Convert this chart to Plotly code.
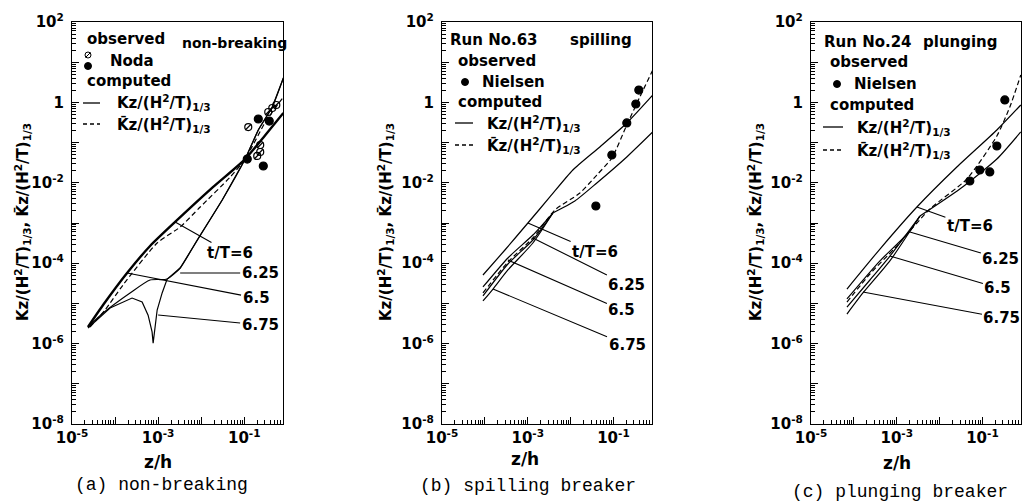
import math
import plotly.graph_objects as go

# ---------------- data: panel (a) non-breaking ----------------
a_x6 = [2.35e-5, 5.26e-5, 1.9e-4, 6.5e-4, 2.48e-3, 1.9e-2, 0.105, 0.31, 0.81]
a_y6 = [2.59e-6, 9.1e-6, 5.7e-5, 2.68e-4, 1.06e-3, 7.9e-3, 0.039, 0.155, 0.545]
a_xm = [2.62e-5, 5.85e-5, 1.53e-4, 9.5e-4, 3.25e-3, 9.5e-3, 4.72e-2, 0.105, 0.31, 0.81]
a_ym = [2.59e-6, 6.85e-6, 2.87e-5, 3.18e-4, 7.94e-4, 2.5e-3, 1.39e-2, 0.039, 0.325, 1.36]
a_x625 = [2.35e-5, 5.26e-5, 2.23e-4, 6.5e-4, 1.62e-3, 3.25e-3, 8.1e-3, 3.08e-2, 0.105, 0.212, 0.448, 0.81]
a_y625 = [2.59e-6, 5.77e-6, 1.82e-5, 3.82e-5, 4.05e-5, 7.6e-5, 3.78e-4, 3.73e-3, 0.039, 0.206, 0.77, 4.05]
a_x675 = [2.35e-5, 7.66e-5, 2.48e-4, 4.25e-4, 5.85e-4, 7.24e-4, 7.66e-4, 8.5e-4, 9.5e-4, 1.24e-3, 1.62e-3]
a_y675 = [2.44e-6, 7.7e-6, 1.36e-5, 1.08e-5, 5.1e-6, 1.95e-6, 1.03e-6, 2.59e-6, 6.85e-6, 1.82e-5, 4.05e-5]
a_noda_open_x = [0.124, 0.235, 0.200, 0.235, 0.361, 0.448, 0.555]
a_noda_open_y = [0.244, 0.0583, 0.0465, 0.0871, 0.577, 0.726, 0.861]
a_noda_fill_x = [0.1175, 0.212, 0.381, 0.277]
a_noda_fill_y = [0.039, 0.386, 0.344, 0.0262]

# ---------------- data: panel (b) spilling ----------------
b_xu = [9.04e-5, 2.94e-4, 1.01e-3, 3.29e-3, 1.13e-2, 4.82e-2, 0.205, 0.828]
b_yu = [5.08e-5, 2.13e-4, 1.0e-3, 4.44e-3, 2.08e-2, 0.078, 0.308, 1.53]
b_xl = [3.86e-3, 1.26e-2, 4.1e-2, 0.205, 0.828]
b_yl = [1.77e-3, 3.52e-3, 9.9e-3, 0.0439, 0.184]
b_xm = [9.04e-5, 3.45e-4, 1.32e-3, 4.3e-3, 1.65e-2, 4.1e-2, 9.18e-2, 0.205, 0.412, 0.828]
b_ym = [1.82e-5, 1.07e-4, 4.24e-4, 2.1e-3, 5.57e-3, 1.56e-2, 4.14e-2, 0.274, 1.36, 6.4]
b_x625 = [9.04e-5, 3.45e-4, 1.32e-3]
b_y625 = [2.56e-5, 1.35e-4, 5.02e-4]
b_x65 = [9.04e-5, 3.45e-4, 1.32e-3]
b_y65 = [1.53e-5, 9.55e-5, 3.78e-4]
b_x675 = [9.04e-5, 1.55e-4, 3.45e-4, 1.32e-3]
b_y675 = [1.15e-5, 2.28e-5, 6.78e-5, 3.18e-4]
b_obs_x = [0.391, 0.333, 0.205, 0.0918, 0.0389]
b_obs_y = [2.03, 0.912, 0.308, 0.0492, 2.65e-3]

# ---------------- data: panel (c) plunging ----------------
c_xu = [6.9e-5, 4.06e-4, 2.96e-3, 2.53e-2, 0.217, 0.785]
c_yu = [2.28e-5, 2.25e-4, 2.5e-3, 2.47e-2, 0.206, 0.861]
c_xl = [3.48e-3, 2.97e-2, 0.217, 0.785]
c_yl = [1.49e-3, 7.0e-3, 0.039, 0.184]
c_xm = [6.9e-5, 2.37e-4, 9.08e-4, 5.94e-3, 4.33e-2, 0.217, 0.436, 0.785]
c_ym = [1.08e-5, 5.38e-5, 2.39e-4, 2.23e-3, 1.24e-2, 0.146, 0.77, 4.8]
c_x625 = [6.9e-5, 4.06e-4, 2.03e-3]
c_y625 = [1.29e-5, 1.14e-4, 6.3e-4]
c_x65 = [6.9e-5, 2.37e-4, 6.93e-4]
c_y65 = [8.1e-6, 3.82e-5, 1.51e-4]
c_x675 = [6.9e-5, 1.63e-4, 6.93e-4]
c_y675 = [5.44e-6, 1.82e-5, 1.14e-4]
c_obs_x = [0.333, 0.217, 0.0869, 0.1486, 0.0508]
c_obs_y = [1.15, 0.0822, 0.0208, 0.0186, 0.0111]

# leader-line labels: (label, point x, point y)
a_labels = [("t/T=6", 2.48e-3, 1.06e-3), ("6.25", 3.25e-3, 5.7e-5),
            ("6.5", 1.9e-4, 5.7e-5), ("6.75", 1.0e-3, 5.14e-6)]
b_labels = [("t/T=6", 1.01e-3, 1.0e-3), ("6.25", 1.32e-3, 4.24e-4),
            ("6.5", 3.45e-4, 1.2e-4), ("6.75", 1.55e-4, 2.28e-5)]
c_labels = [("t/T=6", 2.96e-3, 2.5e-3), ("6.25", 2.03e-3, 5.97e-4),
            ("6.5", 6.93e-4, 1.51e-4), ("6.75", 1.63e-4, 1.92e-5)]

x_tickvals = [1e-5, 1e-4, 1e-3, 1e-2, 1e-1]
x_ticktext = ["10<sup>-5</sup>", "", "10<sup>-3</sup>", "", "10<sup>-1</sup>"]
y_tickvals = [1e-8, 1e-7, 1e-6, 1e-5, 1e-4, 1e-3, 1e-2, 1e-1, 1, 10, 100]
y_ticktext = ["10<sup>-8</sup>", "", "10<sup>-6</sup>", "", "10<sup>-4</sup>", "",
              "10<sup>-2</sup>", "", "1", "", "10<sup>2</sup>"]

# ---------------- layout helpers ----------------
W, H = 1026, 504
FONT = "DejaVu Sans"
BLACK = "black"


def PX(x):
    return x / W


def PY(y):
    return 1 - y / H


panels = [  # left px, right px, axis suffix
    (72, 283, ""),
    (442, 652, "2"),
    (811, 1021, "3"),
]
y_top, y_bot = 22, 424

minor_x = [k * 10.0 ** e for e in range(-5, 0) for k in range(2, 10)]
minor_y = [k * 10.0 ** e for e in range(-8, 2) for k in range(2, 10)]

fig = go.Figure()


def line(x, y, ax, width=1.2, dash="solid", shape="spline"):
    fig.add_trace(go.Scatter(x=x, y=y, mode="lines", xaxis="x" + ax, yaxis="y" + ax,
                             line=dict(color=BLACK, width=width, dash=dash,
                                       shape=shape, smoothing=0.6),
                             showlegend=False, hoverinfo="skip"))


def dots(x, y, ax, symbol="circle", size=7):
    fig.add_trace(go.Scatter(x=x, y=y, mode="markers", xaxis="x" + ax, yaxis="y" + ax,
                             marker=dict(symbol=symbol, size=size, color=BLACK,
                                         line=dict(color=BLACK, width=1.2)),
                             showlegend=False, hoverinfo="skip"))


DASH = "5px,3px"

# panel (a)
line(a_x675 + a_x625[5:], a_y675 + a_y625[5:], "", shape="linear")
line(a_x625, a_y625, "")
line(a_xm, a_ym, "", dash=DASH)
line(a_x6, a_y6, "", width=2.4)
dots(a_noda_open_x, a_noda_open_y, "", symbol="circle-open", size=7)
dots(a_noda_open_x, a_noda_open_y, "", symbol="line-ne", size=6)
dots(a_noda_fill_x, a_noda_fill_y, "", size=8)

# panel (b)
line(b_xu, b_yu, "2")
line(b_xl, b_yl, "2")
for bx, by in [(b_x625, b_y625), (b_x65, b_y65), (b_x675, b_y675)]:
    line(bx + b_xl[:1], by + b_yl[:1], "2")
line(b_xm, b_ym, "2", dash=DASH)
dots(b_obs_x, b_obs_y, "2", size=8)

# panel (c)
line(c_xu, c_yu, "3")
line(c_xl, c_yl, "3")
for cx, cy in [(c_x625, c_y625), (c_x65, c_y65), (c_x675, c_y675)]:
    line(cx + c_xl[:1], cy + c_yl[:1], "3")
line(c_xm, c_ym, "3", dash=DASH)
dots(c_obs_x, c_obs_y, "3", size=8)

layout = dict(width=W, height=H, margin=dict(l=0, r=0, t=0, b=0),
              paper_bgcolor="white", plot_bgcolor="white", showlegend=False)

TICKFONT = dict(family=FONT, size=15, color=BLACK, weight="bold")
for left, right, s in panels:
    layout["xaxis" + s] = dict(
        type="log", range=[-5, -0.1], domain=[PX(left), PX(right)],
        anchor="y" + s, showgrid=False, zeroline=False, showline=True,
        linecolor=BLACK, linewidth=1.3, mirror=True, ticks="inside", ticklen=7,
        tickwidth=1, tickcolor=BLACK, tickmode="array", tickvals=x_tickvals,
        ticktext=x_ticktext, tickfont=TICKFONT, automargin=False,
        minor=dict(ticks="inside", ticklen=4, tickcolor=BLACK, tickmode="array",
                   tickvals=minor_x, showgrid=False))
    layout["yaxis" + s] = dict(
        type="log", range=[-8, 2], domain=[PY(y_bot), PY(y_top)],
        anchor="x" + s, showgrid=False, zeroline=False, showline=True,
        linecolor=BLACK, linewidth=1.3, mirror=True, ticks="inside", ticklen=7,
        tickwidth=1, tickcolor=BLACK, tickmode="array", tickvals=y_tickvals,
        ticktext=y_ticktext, tickfont=TICKFONT, automargin=False,
        ticklabelstandoff=4,
        minor=dict(ticks="inside", ticklen=4, tickcolor=BLACK, tickmode="array",
                   tickvals=minor_y, showgrid=False))

annotations = []
shapes = []


def text(x, y, s, size=15, anchor="left", family=FONT, angle=0, weight="bold"):
    annotations.append(dict(x=PX(x), y=PY(y), xref="paper", yref="paper", text=s,
                            showarrow=False, xanchor=anchor, yanchor="middle",
                            textangle=angle,
                            font=dict(family=family, size=size, color=BLACK,
                                      weight=weight)))


def hline(x0, x1, y, dash="solid"):
    shapes.append(dict(type="line", xref="paper", yref="paper", x0=PX(x0), x1=PX(x1),
                       y0=PY(y), y1=PY(y), line=dict(color=BLACK, width=1.3, dash=dash)))


def circ(x, y, r, fill=True):
    shapes.append(dict(type="circle", xref="paper", yref="paper",
                       x0=PX(x - r), x1=PX(x + r), y0=PY(y + r), y1=PY(y - r),
                       fillcolor=BLACK if fill else "rgba(0,0,0,0)",
                       line=dict(color=BLACK, width=1)))


KZ = "Kz/(H<sup>2</sup>/T)<sub>1/3</sub>"
KZB = "K\u0304z/(H<sup>2</sup>/T)<sub>1/3</sub>"
YT = KZ + ", " + KZB

# legend panel (a)
text(85, 39, "observed")
text(180, 43, "non-breaking", size=14)
circ(88, 55, 3, fill=False)
shapes.append(dict(type="line", xref="paper", yref="paper", x0=PX(85.5), x1=PX(90.5),
                   y0=PY(57.5), y1=PY(52.5), line=dict(color=BLACK, width=1)))
circ(88, 66, 3.5)
text(108, 61, "Noda")
text(85, 81, "computed")
hline(83, 100, 103)
text(115, 103, KZ)
hline(83, 100, 124, dash="4px,3px")
text(115, 124, KZB)

# legend panel (b)
text(448, 40, "Run No.63")
text(568, 40, "spilling")
text(456, 61, "observed")
circ(465, 82, 3.5)
text(480, 82, "Nielsen")
text(456, 102, "computed")
hline(455, 473, 123)
text(485, 123, KZ)
hline(455, 473, 145, dash="4px,3px")
text(485, 145, KZB)

# legend panel (c)
text(822, 42, "Run No.24")
text(921, 42, "plunging")
text(828, 62, "observed")
circ(837, 84, 3.5)
text(852, 84, "Nielsen")
text(828, 105, "computed")
hline(823, 843, 127)
text(855, 127, KZ)
hline(823, 843, 150, dash="4px,3px")
text(855, 150, KZB)

# axis titles and captions
for cx, ty, zx, zy, cy, cap in [(22, 222, 158, 462, 485, "(a) non-breaking"),
                                 (385, 222, 525, 459, 486, "(b) spilling breaker"),
                                 (755, 222, 897, 463, 492, "(c) plunging breaker")]:
    text(cx, ty, YT, size=15, anchor="center", angle=-90)
    text(zx, zy, "z/h", size=17, anchor="center")
    text(zx + 3, cy, cap, size=18, anchor="center", family="Liberation Mono",
         weight="normal")

# leader lines with labels
offsets = {"a": [(55, 31), (80, 0), (129, 25), (102, 10)],
           "b": [(67, 29), (94, 47), (114, 50), (134, 56)],
           "c": [(53, 19), (91, 27), (108, 32), (139, 26)]}
for key, labs, s in [("a", a_labels, ""), ("b", b_labels, "2"), ("c", c_labels, "3")]:
    for (lab, x, y), (ox, oy) in zip(labs, offsets[key]):
        annotations.append(dict(x=math.log10(x), y=math.log10(y), xref="x" + s, yref="y" + s,
                                text=lab, showarrow=True, arrowhead=0, arrowwidth=1.1,
                                arrowcolor=BLACK, ax=ox, ay=oy, standoff=0,
                                font=dict(family=FONT, size=15, color=BLACK, weight="bold")))

layout["annotations"] = annotations
layout["shapes"] = shapes
fig.update_layout(**layout)
fig.write_html("out.html")
